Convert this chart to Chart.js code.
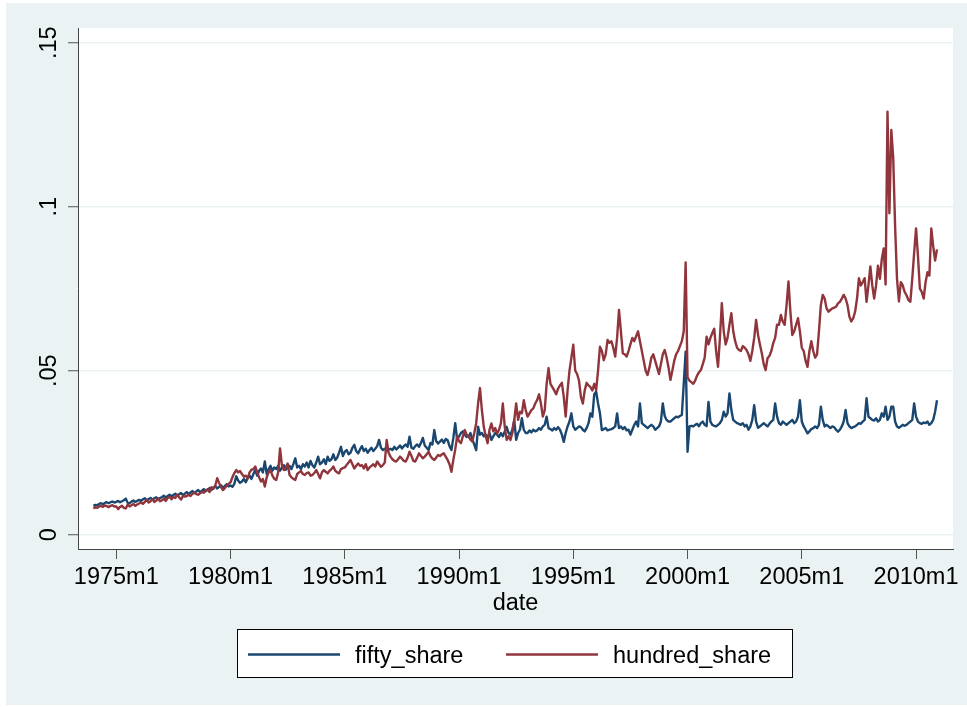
<!DOCTYPE html>
<html>
<head>
<meta charset="utf-8">
<script src="https://cdn.jsdelivr.net/npm/chart.js@4"></script>
<style>
  html, body { margin: 0; padding: 0; background: #fff; }
</style>
</head>
<body>
<canvas id="chart" width="967" height="707"></canvas>
<script>
// monthly series, first value is 1974m1 (Stata %tm: months since 1960m1)
const startMonth = 168;

const fiftyShare = [
  .0088, .0091, .0090, .0094, .0096, .0093, .0097, .0099, .0096, .0099, .0101, .0098, // 1974
  .0100, .0103, .0099, .0102, .0105, .0110, .0097, .0096, .0101, .0104, .0100, .0103, // 1975
  .0106, .0103, .0108, .0111, .0105, .0109, .0112, .0107, .0111, .0114, .0109, .0112, // 1976
  .0115, .0119, .0113, .0118, .0122, .0117, .0121, .0125, .0119, .0123, .0127, .0121, // 1977
  .0125, .0130, .0124, .0129, .0133, .0127, .0132, .0136, .0130, .0134, .0139, .0133, // 1978
  .0137, .0142, .0136, .0143, .0148, .0141, .0146, .0151, .0144, .0148, .0154, .0147, // 1979
  .0150, .0146, .0155, .0178, .0165, .0158, .0162, .0170, .0160, .0172, .0180, .0170, // 1980
  .0185, .0197, .0180, .0195, .0202, .0190, .0223, .0185, .0200, .0210, .0195, .0205, // 1981
  .0200, .0210, .0195, .0205, .0212, .0198, .0205, .0210, .0200, .0215, .0233, .0205, // 1982
  .0210, .0200, .0215, .0208, .0220, .0205, .0225, .0212, .0205, .0220, .0238, .0215, // 1983
  .0220, .0230, .0215, .0238, .0225, .0230, .0245, .0228, .0235, .0250, .0268, .0240, // 1984
  .0253, .0258, .0245, .0250, .0265, .0274, .0255, .0248, .0260, .0270, .0255, .0262, // 1985
  .0250, .0258, .0265, .0255, .0262, .0270, .0289, .0265, .0258, .0262, .0255, .0260, // 1986
  .0262, .0258, .0268, .0260, .0265, .0272, .0263, .0270, .0275, .0268, .0299, .0265, // 1987
  .0262, .0270, .0275, .0268, .0280, .0295, .0272, .0265, .0258, .0280, .0275, .0319, // 1988
  .0285, .0278, .0284, .0290, .0280, .0292, .0288, .0270, .0258, .0295, .0340, .0290, // 1989
  .0300, .0310, .0315, .0305, .0298, .0300, .0310, .0290, .0275, .0258, .0329, .0305, // 1990
  .0310, .0300, .0305, .0295, .0310, .0289, .0300, .0310, .0305, .0298, .0310, .0300, // 1991
  .0315, .0329, .0310, .0305, .0320, .0350, .0289, .0310, .0320, .0355, .0320, .0310, // 1992
  .0310, .0318, .0312, .0320, .0315, .0318, .0325, .0320, .0330, .0335, .0360, .0325, // 1993
  .0322, .0318, .0325, .0320, .0328, .0320, .0305, .0283, .0310, .0330, .0345, .0370, // 1994
  .0330, .0320, .0325, .0330, .0328, .0320, .0315, .0325, .0340, .0370, .0360, .0428, // 1995
  .0436, .0400, .0370, .0319, .0322, .0325, .0318, .0320, .0322, .0325, .0330, .0370, // 1996
  .0325, .0330, .0322, .0328, .0318, .0320, .0305, .0320, .0335, .0345, .0330, .0400, // 1997
  .0340, .0335, .0330, .0325, .0330, .0335, .0330, .0320, .0325, .0330, .0345, .0400, // 1998
  .0362, .0350, .0345, .0345, .0350, .0355, .0360, .0358, .0362, .0365, .0460, .0558, // 1999
  .0253, .0330, .0332, .0330, .0335, .0338, .0331, .0340, .0345, .0335, .0331, .0405, // 2000
  .0345, .0335, .0332, .0330, .0335, .0340, .0350, .0375, .0360, .0370, .0431, .0380, // 2001
  .0350, .0345, .0340, .0338, .0335, .0340, .0330, .0335, .0320, .0330, .0350, .0395, // 2002
  .0345, .0326, .0330, .0335, .0340, .0335, .0330, .0338, .0345, .0350, .0400, .0360, // 2003
  .0340, .0335, .0345, .0340, .0335, .0340, .0345, .0350, .0340, .0345, .0360, .0410, // 2004
  .0345, .0330, .0320, .0309, .0315, .0322, .0325, .0330, .0325, .0335, .0390, .0350, // 2005
  .0330, .0335, .0330, .0325, .0330, .0328, .0320, .0314, .0320, .0330, .0345, .0380, // 2006
  .0340, .0330, .0325, .0328, .0330, .0335, .0340, .0338, .0345, .0350, .0416, .0360, // 2007
  .0355, .0350, .0348, .0355, .0345, .0350, .0370, .0360, .0390, .0350, .0360, .0390, // 2008
  .0390, .0345, .0330, .0326, .0330, .0335, .0332, .0335, .0340, .0345, .0350, .0400, // 2009
  .0360, .0345, .0340, .0338, .0342, .0340, .0345, .0335, .0340, .0350, .0375, .0410  // 2010
];

const hundredShare = [
  .0080, .0084, .0082, .0086, .0088, .0085, .0089, .0087, .0084, .0088, .0090, .0086, // 1974
  .0086, .0078, .0085, .0088, .0082, .0080, .0092, .0086, .0090, .0094, .0088, .0092, // 1975
  .0095, .0098, .0094, .0100, .0106, .0098, .0102, .0108, .0100, .0104, .0110, .0102, // 1976
  .0105, .0110, .0103, .0112, .0116, .0108, .0115, .0112, .0122, .0114, .0107, .0118, // 1977
  .0116, .0118, .0122, .0118, .0125, .0128, .0124, .0122, .0126, .0130, .0128, .0135, // 1978
  .0138, .0130, .0145, .0140, .0150, .0172, .0158, .0145, .0136, .0142, .0150, .0155, // 1979
  .0160, .0175, .0188, .0197, .0190, .0194, .0185, .0177, .0180, .0172, .0190, .0198, // 1980
  .0200, .0208, .0190, .0175, .0162, .0170, .0147, .0175, .0190, .0197, .0180, .0170, // 1981
  .0167, .0190, .0263, .0210, .0197, .0205, .0217, .0182, .0175, .0170, .0167, .0185, // 1982
  .0190, .0194, .0185, .0182, .0188, .0190, .0180, .0182, .0188, .0197, .0185, .0172, // 1983
  .0190, .0197, .0192, .0187, .0195, .0200, .0208, .0195, .0190, .0187, .0200, .0203, // 1984
  .0205, .0213, .0220, .0228, .0215, .0202, .0210, .0217, .0210, .0212, .0202, .0215, // 1985
  .0197, .0205, .0210, .0215, .0208, .0223, .0215, .0207, .0212, .0220, .0289, .0250, // 1986
  .0238, .0230, .0225, .0223, .0230, .0238, .0232, .0225, .0223, .0235, .0253, .0240, // 1987
  .0225, .0223, .0235, .0248, .0240, .0233, .0238, .0245, .0253, .0240, .0232, .0228, // 1988
  .0235, .0243, .0240, .0245, .0248, .0238, .0228, .0215, .0192, .0228, .0260, .0299, // 1989
  .0285, .0279, .0300, .0319, .0305, .0299, .0290, .0284, .0310, .0340, .0400, .0447, // 1990
  .0380, .0329, .0300, .0279, .0320, .0339, .0315, .0325, .0309, .0320, .0340, .0400, // 1991
  .0330, .0289, .0300, .0289, .0310, .0350, .0400, .0350, .0375, .0370, .0410, .0380, // 1992
  .0360, .0370, .0380, .0385, .0400, .0410, .0428, .0400, .0360, .0380, .0460, .0508, // 1993
  .0460, .0450, .0440, .0428, .0445, .0455, .0463, .0420, .0360, .0440, .0500, .0540, // 1994
  .0579, .0500, .0490, .0470, .0420, .0400, .0440, .0463, .0455, .0450, .0440, .0460, // 1995
  .0441, .0500, .0573, .0560, .0532, .0550, .0594, .0585, .0590, .0570, .0543, .0600, // 1996
  .0685, .0620, .0553, .0550, .0543, .0560, .0580, .0600, .0590, .0605, .0620, .0590, // 1997
  .0560, .0530, .0500, .0487, .0510, .0540, .0550, .0530, .0510, .0490, .0520, .0550, // 1998
  .0563, .0540, .0510, .0472, .0500, .0530, .0550, .0560, .0575, .0590, .0620, .0830, // 1999
  .0480, .0470, .0465, .0460, .0470, .0485, .0495, .0502, .0520, .0540, .0604, .0580, // 2000
  .0600, .0615, .0628, .0560, .0512, .0600, .0706, .0620, .0580, .0600, .0640, .0675, // 2001
  .0620, .0590, .0570, .0563, .0560, .0575, .0570, .0563, .0550, .0530, .0560, .0600, // 2002
  .0655, .0610, .0580, .0553, .0520, .0502, .0538, .0545, .0560, .0584, .0600, .0640, // 2003
  .0640, .0670, .0650, .0640, .0700, .0772, .0680, .0609, .0620, .0640, .0660, .0620, // 2004
  .0570, .0560, .0530, .0512, .0560, .0590, .0560, .0540, .0550, .0620, .0700, .0731, // 2005
  .0720, .0690, .0680, .0685, .0690, .0692, .0695, .0705, .0710, .0720, .0731, .0720, // 2006
  .0700, .0665, .0650, .0660, .0680, .0720, .0782, .0760, .0770, .0782, .0710, .0760, // 2007
  .0818, .0760, .0720, .0760, .0820, .0780, .0840, .0873, .0763, .1290, .0980, .1234, // 2008
  .1150, .0940, .0780, .0711, .0770, .0760, .0740, .0730, .0715, .0710, .0780, .0860, // 2009
  .0934, .0850, .0750, .0740, .0720, .0770, .0800, .0790, .0934, .0880, .0836, .0870  // 2010
];

const xTickValues = [180, 240, 300, 360, 420, 480, 540, 600];
const xTickLabels = ["1975m1", "1980m1", "1985m1", "1990m1", "1995m1", "2000m1", "2005m1", "2010m1"];
const yTickValues = [0, 0.05, 0.1, 0.15];
const yTickLabels = ["0", ".05", ".1", ".15"];

const FONT = "'Liberation Sans', Arial, Helvetica, sans-serif";
const BG = "#eaf2f3";

const toPoints = (arr) => arr.map((v, i) => ({ x: startMonth + i, y: v }));

// Stata-style background, white plot region and boxed legend
const stataFrame = {
  id: "stataFrame",
  beforeDraw(chart) {
    const { ctx, chartArea: a } = chart;
    ctx.save();
    ctx.fillStyle = "#fff";
    ctx.fillRect(0, 0, chart.width, chart.height);
    ctx.fillStyle = BG;
    ctx.fillRect(6, 3, chart.width - 6, 702);
    ctx.fillStyle = "#fff";
    ctx.fillRect(a.left, a.top, a.right - a.left, a.bottom - a.top);
    ctx.restore();
  },
  afterDraw(chart) {
    const ctx = chart.ctx;
    const sets = chart.data.datasets;
    ctx.save();
    ctx.fillStyle = "#fff";
    ctx.fillRect(237.5, 629.5, 555, 48);
    ctx.strokeStyle = "#000";
    ctx.lineWidth = 1;
    ctx.strokeRect(237.5, 629.5, 555, 48);
    const lineX = [248, 506];
    const textX = [355, 613];
    ctx.font = "23.5px " + FONT;
    ctx.textBaseline = "alphabetic";
    sets.forEach((ds, i) => {
      ctx.strokeStyle = ds.borderColor;
      ctx.lineWidth = 2.5;
      ctx.beginPath();
      ctx.moveTo(lineX[i], 654.5);
      ctx.lineTo(lineX[i] + 92, 654.5);
      ctx.stroke();
      ctx.fillStyle = "#000";
      ctx.fillText(ds.label, textX[i], 663);
    });
    ctx.restore();
  }
};

new Chart(document.getElementById("chart"), {
  type: "line",
  data: {
    datasets: [
      { label: "fifty_share", data: toPoints(fiftyShare), borderColor: "#1a476f", order: 1 },
      { label: "hundred_share", data: toPoints(hundredShare), borderColor: "#90353b", order: 0 }
    ]
  },
  options: {
    responsive: false,
    animation: false,
    devicePixelRatio: 1,
    layout: { padding: { top: 28, right: 14, left: 0, bottom: 0 } },
    elements: {
      point: { radius: 0 },
      line: { borderWidth: 2.4, tension: 0, borderJoinStyle: "round" }
    },
    plugins: { legend: { display: false }, tooltip: { enabled: false } },
    scales: {
      x: {
        type: "linear",
        min: 159.9,
        max: 619.4,
        afterBuildTicks: (s) => { s.ticks = xTickValues.map((v) => ({ value: v })); },
        afterFit: (s) => { s.height = 158; },
        ticks: {
          autoSkip: false,
          maxRotation: 0,
          padding: 4,
          color: "#000",
          font: { family: FONT, size: 23.5 },
          callback: (v, i) => xTickLabels[i]
        },
        grid: { drawOnChartArea: false, tickLength: 10, tickColor: "#555", tickWidth: 1 },
        border: { color: "#444", width: 1 },
        title: {
          display: true,
          text: "date",
          color: "#000",
          font: { family: FONT, size: 23.5 },
          padding: { top: 0, bottom: 89.4 }
        }
      },
      y: {
        min: -0.00436,
        max: 0.15448,
        afterBuildTicks: (s) => { s.ticks = yTickValues.map((v) => ({ value: v })); },
        afterFit: (s) => { s.width = 78; },
        ticks: {
          padding: 2,
          crossAlign: "center",
          minRotation: 90,
          maxRotation: 90,
          color: "#000",
          font: { family: FONT, size: 23.5 },
          callback: (v, i) => yTickLabels[i]
        },
        grid: { color: BG, lineWidth: 1.5, tickLength: 10, tickColor: "#555", tickWidth: 1 },
        border: { color: "#444", width: 1 }
      }
    }
  },
  plugins: [stataFrame]
});
</script>
</body>
</html>
